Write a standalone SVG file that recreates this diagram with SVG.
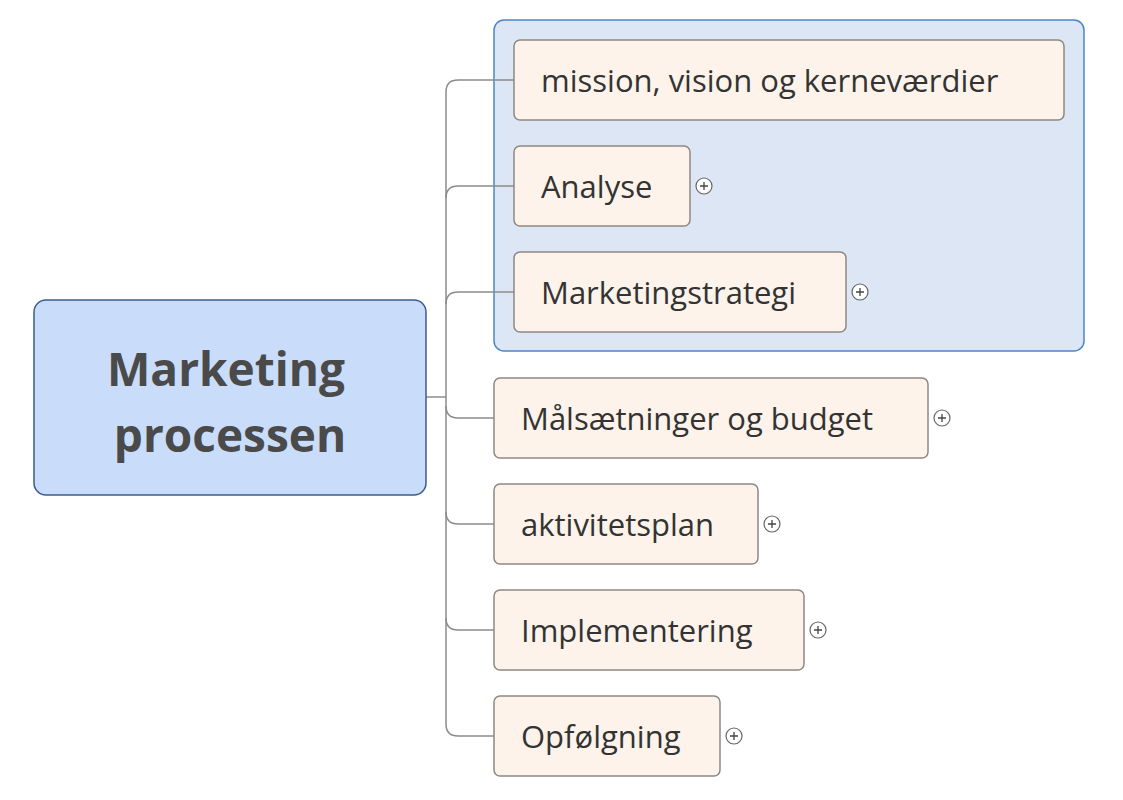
<svg xmlns="http://www.w3.org/2000/svg" width="1123" height="800" viewBox="0 0 1123 800">
<style>
.n{fill:#fdf3ea;stroke:#8e8883;stroke-width:1.5}
.t{font-family:"Open Sans","Noto Sans",sans-serif;font-size:31px;fill:#333}
.c{fill:none;stroke:#8c8c8c;stroke-width:1.5}
.p circle{fill:#fff;stroke:#666;stroke-width:1.2}
.p path{stroke:#444;stroke-width:1.3}
</style>
<rect width="1123" height="800" fill="#fff"/>
<g id="group"><rect x="494" y="20" width="590" height="331" rx="10" fill="#dce6f4" stroke="#4a86c8" stroke-width="1.5"/></g>
<g id="connectors">
<path class="c" d="M426 397H446"/>
<path class="c" d="M514 80H458Q446 80 446 92V724Q446 736 458 736H494"/>
<path class="c" d="M514 186H458Q446 186 446 198"/>
<path class="c" d="M514 292H458Q446 292 446 304"/>
<path class="c" d="M446 406Q446 418 458 418H494"/>
<path class="c" d="M446 512Q446 524 458 524H494"/>
<path class="c" d="M446 618Q446 630 458 630H494"/>
</g>
<g id="root"><rect x="34" y="300" width="392" height="195" rx="12" fill="#c9dcfa" stroke="#3b5b8e" stroke-width="1.5"/>
<text x="226" y="386" text-anchor="middle" font-family="'Open Sans','Noto Sans',sans-serif" font-weight="bold" font-size="46" fill="#4a4a4a">Marketing</text>
<text x="230" y="452" text-anchor="middle" font-family="'Open Sans','Noto Sans',sans-serif" font-weight="bold" font-size="46" fill="#4a4a4a">processen</text></g>
<g id="n1"><rect class="n" x="514" y="40" width="550" height="80" rx="6"/><text class="t" x="541" y="92">mission, vision og kerneværdier</text></g>
<g id="n2"><rect class="n" x="514" y="146" width="176" height="80" rx="6"/><text class="t" x="541" y="198">Analyse</text>
<g class="p"><circle cx="704" cy="186" r="8"/><path d="M700 186h8M704 182v8"/></g></g>
<g id="n3"><rect class="n" x="514" y="252" width="332" height="80" rx="6"/><text class="t" x="541" y="304">Marketingstrategi</text>
<g class="p"><circle cx="860" cy="292" r="8"/><path d="M856 292h8M860 288v8"/></g></g>
<g id="n4"><rect class="n" x="494" y="378" width="434" height="80" rx="6"/><text class="t" x="521" y="430">Målsætninger og budget</text>
<g class="p"><circle cx="942" cy="418" r="8"/><path d="M938 418h8M942 414v8"/></g></g>
<g id="n5"><rect class="n" x="494" y="484" width="264" height="80" rx="6"/><text class="t" x="521" y="536">aktivitetsplan</text>
<g class="p"><circle cx="772" cy="524" r="8"/><path d="M768 524h8M772 520v8"/></g></g>
<g id="n6"><rect class="n" x="494" y="590" width="310" height="80" rx="6"/><text class="t" x="521" y="642">Implementering</text>
<g class="p"><circle cx="818" cy="630" r="8"/><path d="M814 630h8M818 626v8"/></g></g>
<g id="n7"><rect class="n" x="494" y="696" width="226" height="80" rx="6"/><text class="t" x="521" y="748">Opfølgning</text>
<g class="p"><circle cx="734" cy="736" r="8"/><path d="M730 736h8M734 732v8"/></g></g>
</svg>
